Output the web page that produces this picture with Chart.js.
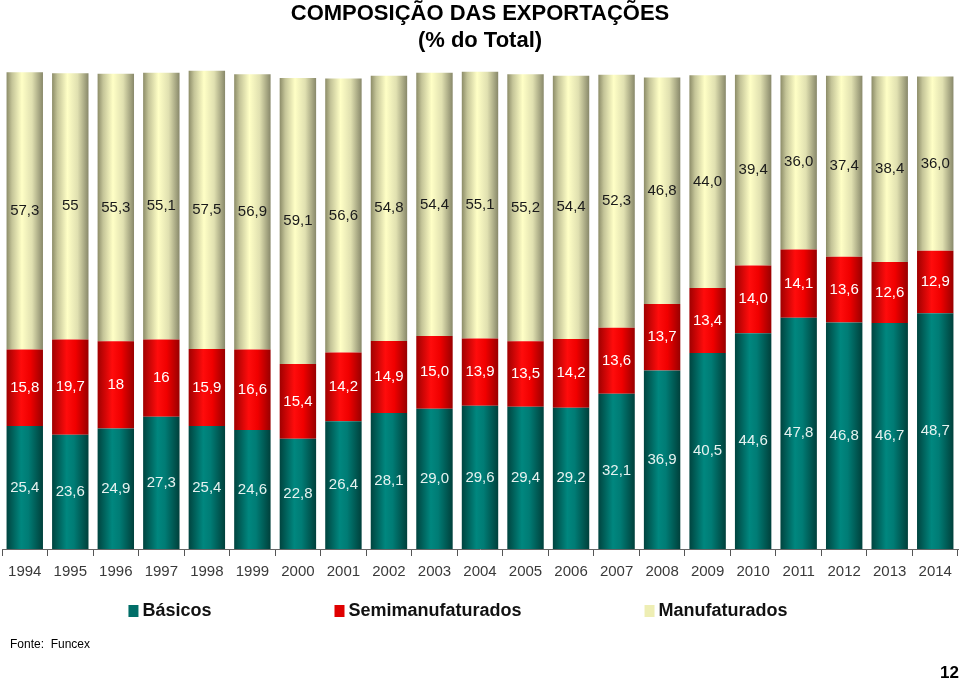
<!DOCTYPE html>
<html>
<head>
<meta charset="utf-8">
<script src="https://cdn.jsdelivr.net/npm/chart.js@4.4.0/dist/chart.umd.min.js"></script>
<style>
  body { margin: 0; background: #fff; }
  #wrap { position: relative; width: 960px; height: 681px; }
  #fonte { position: absolute; left: 10px; top: 637px; font: 12px 'Liberation Sans', Arial, sans-serif; color: #000; }
  #pagina { position: absolute; left: 940px; top: 663px; font: bold 17px 'Liberation Sans', Arial, sans-serif; color: #000; }
</style>
</head>
<body>
<div id="wrap">
  <canvas id="grafico" width="960" height="681"></canvas>
  <div id="fonte">Fonte:&nbsp; Funcex</div>
  <div id="pagina">12</div>
</div>
<script>
// dados (% do total), como aparecem na tabela
var anos = ['1994', '1995', '1996', '1997', '1998', '1999', '2000', '2001', '2002', '2003', '2004',
            '2005', '2006', '2007', '2008', '2009', '2010', '2011', '2012', '2013', '2014'];
var basicos = ['25,4', '23,6', '24,9', '27,3', '25,4', '24,6', '22,8', '26,4', '28,1', '29,0', '29,6',
               '29,4', '29,2', '32,1', '36,9', '40,5', '44,6', '47,8', '46,8', '46,7', '48,7'];
var semimanufaturados = ['15,8', '19,7', '18', '16', '15,9', '16,6', '15,4', '14,2', '14,9', '15,0', '13,9',
                         '13,5', '14,2', '13,6', '13,7', '13,4', '14,0', '14,1', '13,6', '12,6', '12,9'];
var manufaturados = ['57,3', '55', '55,3', '55,1', '57,5', '56,9', '59,1', '56,6', '54,8', '54,4', '55,1',
                     '55,2', '54,4', '52,3', '46,8', '44,0', '39,4', '36,0', '37,4', '38,4', '36,0'];

var coresLegenda = ['#006e68', '#e00000', '#eeeeb4'];

function paraNumero(lista) {
    return lista.map(function (t) { return parseFloat(t.replace(',', '.')); });
}

// degrade horizontal para dar o efeito de cilindro
function cilindro(corSolida, paradas) {
    return function (ctx) {
        var chart = ctx.chart;
        if (ctx.dataIndex === undefined || !chart.chartArea || !chart.scales.x) {
            return corSolida;
        }
        var escala = chart.scales.x;
        var centro = escala.getPixelForValue(ctx.dataIndex);
        var largura = (escala.width / anos.length) * 0.8;
        var g = chart.ctx.createLinearGradient(centro - largura / 2, 0, centro + largura / 2, 0);
        for (var i = 0; i < paradas.length; i++) {
            g.addColorStop(paradas[i][0], paradas[i][1]);
        }
        return g;
    };
}

var rotulos = {
    id: 'rotulos',
    afterDatasetsDraw: function (chart) {
        var c = chart.ctx;
        var cores = ['#e6f2f0', '#ffffff', '#1a1a1a'];
        var textos = [basicos, semimanufaturados, manufaturados];
        c.save();
        c.font = '15px "Liberation Sans", Arial, sans-serif';
        c.textAlign = 'center';
        c.textBaseline = 'middle';
        chart.data.datasets.forEach(function (ds, i) {
            var meta = chart.getDatasetMeta(i);
            c.fillStyle = cores[i];
            meta.data.forEach(function (barra, j) {
                c.fillText(textos[i][j], barra.x, (barra.y + barra.base) / 2);
            });
        });
        c.restore();
    }
};

// legenda desenhada a mao (espacamento largo entre itens)
var legendaLarga = {
    id: 'legendaLarga',
    afterDraw: function (chart) {
        var c = chart.ctx;
        var espaco = 123;
        var caixa = 10;
        var y = 611;
        c.save();
        c.font = 'bold 18px "Liberation Sans Narrow", "Arial Narrow", sans-serif';
        c.textBaseline = 'middle';
        var larguras = chart.data.datasets.map(function (ds) {
            return caixa + 4 + c.measureText(ds.label).width;
        });
        var total = larguras.reduce(function (a, b) { return a + b; }, 0) + espaco * (larguras.length - 1);
        var x = 458 - total / 2;
        chart.data.datasets.forEach(function (ds, i) {
            c.fillStyle = coresLegenda[i];
            c.fillRect(x, y - 6, caixa, 12);
            c.fillStyle = '#111';
            c.fillText(ds.label, x + caixa + 4, y);
            x += larguras[i] + espaco;
        });
        c.restore();
    }
};

new Chart(document.getElementById('grafico'), {
    type: 'bar',
    data: {
        labels: anos,
        datasets: [
            {
                label: 'Básicos',
                data: paraNumero(basicos),
                backgroundColor: cilindro('#006e68', [[0, '#00443f'], [0.4, '#00877f'], [0.6, '#007c75'], [1, '#00403b']])
            },
            {
                label: 'Semimanufaturados',
                data: paraNumero(semimanufaturados),
                backgroundColor: cilindro('#e00000', [[0, '#a00000'], [0.4, '#ff0c0c'], [0.65, '#f00000'], [1, '#980000']])
            },
            {
                label: 'Manufaturados',
                data: paraNumero(manufaturados),
                backgroundColor: cilindro('#eeeeb4', [[0, '#8c8c68'], [0.15, '#c4c498'], [0.42, '#ffffc6'], [0.7, '#e0e0b0'], [1, '#88886a']])
            }
        ]
    },
    options: {
        responsive: false,
        animation: false,
        layout: { padding: { left: 2, right: 2, top: 0, bottom: 93 } },
        datasets: {
            bar: { barPercentage: 0.8, categoryPercentage: 1, borderWidth: 0 }
        },
        scales: {
            x: {
                stacked: true,
                grid: { display: true, drawOnChartArea: false, drawTicks: true, tickLength: 7, color: '#555', offset: true },
                border: { display: true, color: '#666', width: 1 },
                ticks: {
                    color: '#3a3a3a',
                    padding: 7,
                    font: { family: '"Liberation Sans", Arial, sans-serif', size: 15 }
                }
            },
            y: {
                stacked: true,
                display: false,
                min: 0,
                max: 100
            }
        },
        plugins: {
            title: {
                display: true,
                text: ['COMPOSIÇÃO DAS EXPORTAÇÕES', '(% do Total)'],
                color: '#000',
                font: { family: '"Liberation Sans", Arial, sans-serif', size: 22, weight: 'bold', lineHeight: 1.25 },
                padding: { top: 0, bottom: 10 }
            },
            legend: { display: false },
            tooltip: { enabled: false }
        }
    },
    plugins: [rotulos, legendaLarga]
});
</script>
</body>
</html>
